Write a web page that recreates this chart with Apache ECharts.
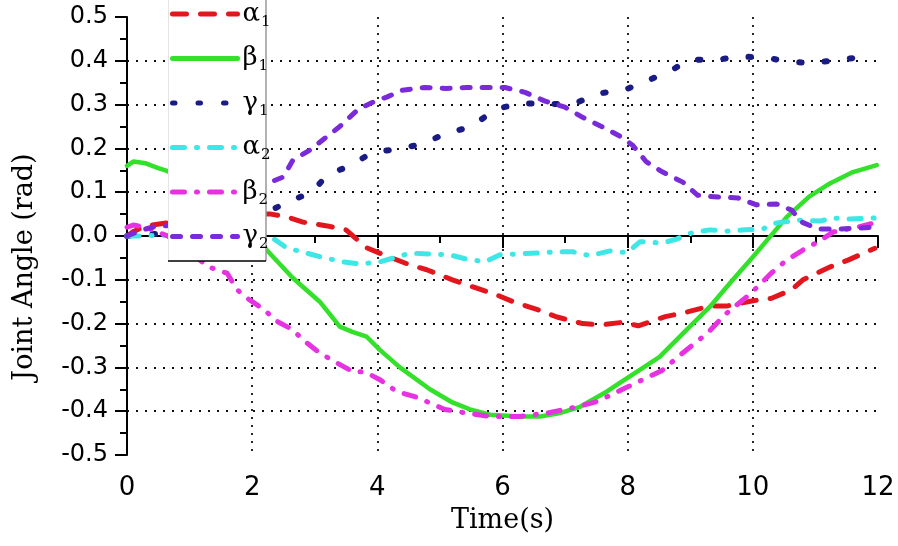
<!DOCTYPE html>
<html><head><meta charset="utf-8">
<script src="https://cdn.jsdelivr.net/npm/echarts@6/dist/echarts.min.js"></script>
<style>html,body{margin:0;padding:0;background:#fff}#c{width:898px;height:546px}</style>
</head><body><div id="c"></div>
<script>
// Series names (legend)
const seriesNames = ['α1', 'β1', 'γ1', 'α2', 'β2', 'γ2'];
// x ticks / y ticks
const xTicks = [0, 2, 4, 6, 8, 10, 12];
const yTicks = [-0.5, -0.4, -0.3, -0.2, -0.1, 0.0, 0.1, 0.2, 0.3, 0.4, 0.5];

// [time (s), joint angle (rad)]
const alpha1 = [[0,0.0],[0.1,0.01],[0.25,0.02],[0.4,0.025],[0.65,0.03],[1.5,0.045],[2.0,0.05],[2.3,0.05],[2.57,0.043],[2.8,0.032],[3.2,0.023],[3.5,0.014],[3.83,-0.027],[4.1,-0.043],[4.52,-0.066],[4.79,-0.077],[5.2,-0.1],[5.48,-0.114],[5.9,-0.134],[6.17,-0.15],[6.6,-0.17],[6.87,-0.185],[7.28,-0.2],[7.58,-0.203],[7.92,-0.197],[8.17,-0.205],[8.6,-0.184],[8.88,-0.176],[9.31,-0.16],[9.58,-0.16],[10.0,-0.148],[10.3,-0.142],[10.62,-0.123],[10.8,-0.1],[11.23,-0.071],[11.52,-0.055],[11.95,-0.028]];
const beta1 = [[0,0.16],[0.1,0.17],[0.3,0.166],[0.5,0.155],[0.65,0.148],[1.0,0.12],[1.5,0.06],[2.0,0.005],[2.25,-0.035],[2.65,-0.096],[3.08,-0.15],[3.4,-0.207],[3.6,-0.219],[3.83,-0.23],[4.04,-0.26],[4.36,-0.3],[4.84,-0.35],[5.2,-0.38],[5.48,-0.396],[5.8,-0.408],[6.28,-0.412],[6.6,-0.412],[6.9,-0.405],[7.24,-0.39],[7.67,-0.355],[7.88,-0.335],[8.2,-0.305],[8.51,-0.276],[8.9,-0.22],[9.31,-0.162],[9.65,-0.105],[10.0,-0.048],[10.54,0.043],[10.9,0.09],[11.23,0.12],[11.6,0.146],[11.98,0.162]];
const gamma1 = [[0,0.0],[0.5,0.005],[1.0,0.01],[1.5,0.02],[2.0,0.035],[2.24,0.055],[2.64,0.082],[2.96,0.1],[3.2,0.14],[3.56,0.16],[3.91,0.19],[4.33,0.199],[4.73,0.21],[5.1,0.235],[5.5,0.249],[5.88,0.289],[6.28,0.303],[6.7,0.302],[7.12,0.3],[7.52,0.325],[7.96,0.334],[8.37,0.358],[8.72,0.38],[9.0,0.404],[9.36,0.4],[9.74,0.41],[10.14,0.408],[10.48,0.401],[10.9,0.394],[11.31,0.401],[11.7,0.408],[11.9,0.405]];
const alpha2 = [[0,0.0],[0.2,0.0],[0.5,0.002],[1.0,0.0],[1.5,0.0],[2.0,-0.002],[2.33,-0.005],[2.55,-0.027],[2.87,-0.039],[3.16,-0.05],[3.45,-0.059],[3.72,-0.064],[4.04,-0.059],[4.31,-0.048],[4.52,-0.039],[4.84,-0.041],[5.16,-0.043],[5.4,-0.052],[5.72,-0.059],[5.96,-0.043],[6.23,-0.041],[6.55,-0.039],[6.87,-0.036],[7.12,-0.036],[7.4,-0.045],[7.72,-0.034],[7.99,-0.038],[8.2,-0.013],[8.56,-0.016],[8.78,-0.007],[9.02,0.007],[9.31,0.014],[9.58,0.011],[9.87,0.014],[10.16,0.016],[10.38,0.03],[10.75,0.036],[11.07,0.034],[11.28,0.041],[11.55,0.039],[11.95,0.041]];
const beta2 = [[0,0.02],[0.1,0.025],[0.3,0.02],[0.65,0.0],[1.0,-0.035],[1.29,-0.07],[1.6,-0.085],[1.76,-0.123],[1.96,-0.146],[2.17,-0.166],[2.4,-0.195],[2.65,-0.214],[2.81,-0.237],[3.08,-0.267],[3.32,-0.287],[3.61,-0.31],[3.8,-0.31],[4.04,-0.328],[4.31,-0.355],[4.65,-0.369],[4.79,-0.378],[5.08,-0.396],[5.37,-0.403],[5.8,-0.412],[6.28,-0.412],[6.76,-0.403],[7.19,-0.39],[7.51,-0.378],[7.92,-0.35],[8.24,-0.328],[8.55,-0.307],[8.88,-0.267],[9.28,-0.221],[9.55,-0.18],[9.9,-0.139],[10.06,-0.118],[10.3,-0.084],[10.54,-0.055],[10.8,-0.032],[11.07,-0.011],[11.28,0.009],[11.6,0.018],[11.95,0.03]];
const gamma2 = [[0,0.0],[0.2,0.012],[0.4,0.02],[0.57,0.023],[0.8,0.025],[1.2,0.04],[1.6,0.06],[2.0,0.1],[2.24,0.12],[2.5,0.135],[2.65,0.173],[2.92,0.196],[3.08,0.214],[3.4,0.25],[3.7,0.29],[4.0,0.31],[4.15,0.317],[4.4,0.333],[4.76,0.339],[5.1,0.337],[5.43,0.339],[5.72,0.339],[6.04,0.339],[6.36,0.328],[6.68,0.308],[7.0,0.294],[7.28,0.271],[7.6,0.249],[7.9,0.226],[8.08,0.207],[8.3,0.169],[8.56,0.146],[8.88,0.123],[9.12,0.093],[9.44,0.089],[9.76,0.087],[10.06,0.071],[10.38,0.073],[10.62,0.059],[10.78,0.032],[11.04,0.016],[11.39,0.016],[11.7,0.018],[11.92,0.02]];

const seriesData = [alpha1, beta1, gamma1, alpha2, beta2, gamma2];
const colors = ['#e3161e', '#33e02a', '#1b1b86', '#3ee6e6', '#e632e0', '#7a2ad8'];
const dashes = [[14, 14], 'solid', [2.5, 23], [12, 12, 1, 12], [12, 12, 1, 12], [8, 12]];
const widths = [5, 4.5, 6, 5, 5, 5];

const chart = echarts.init(document.getElementById('c'), null, {renderer: 'canvas'});
const serif = 'DejaVu Serif';
const sans = 'DejaVu Sans';

const option = {
  backgroundColor: '#fff',
  animation: false,
  grid: {left: 127, right: 20, top: 17, bottom: 91, containLabel: false},
  xAxis: {
    type: 'value', min: xTicks[0], max: xTicks[xTicks.length - 1], interval: 2,
    name: 'Time(s)', nameLocation: 'middle', nameGap: 52,
    nameTextStyle: {fontFamily: serif, fontSize: 27, color: '#000'},
    axisLine: {show: true, lineStyle: {color: '#000', width: 2}},
    axisTick: {show: true, inside: false, length: 12, lineStyle: {color: '#000', width: 2}},
    minorTick: {show: true, splitNumber: 2, length: 7, lineStyle: {color: '#000', width: 2}},
    axisLabel: {margin: 20, fontFamily: sans, fontSize: 26, color: '#000'},
    splitLine: {show: true, showMinLine: false, showMaxLine: false, lineStyle: {color: '#111', width: 1.8, type: [2, 6]}}
  },
  yAxis: {
    type: 'value', min: yTicks[0], max: yTicks[yTicks.length - 1], interval: 0.1,
    axisLine: {show: true, lineStyle: {color: '#000', width: 2}},
    axisTick: {show: true, inside: false, length: 12, lineStyle: {color: '#000', width: 2}},
    minorTick: {show: true, splitNumber: 2, length: 7, lineStyle: {color: '#000', width: 2}},
    axisLabel: {margin: 19, fontFamily: sans, fontSize: 24, color: '#000',
      formatter: v => (Math.abs(v) < 1e-9 ? '0.0' : v.toFixed(1))},
    splitLine: {show: true, showMinLine: false, showMaxLine: false, lineStyle: {color: '#111', width: 1.8, type: [2, 7]}}
  },
  legend: {
    orient: 'vertical', left: 170, top: 1, padding: 0, itemGap: 16,
    itemWidth: 65, itemHeight: 14,
    data: seriesNames,
    itemStyle: {opacity: 0},
    lineStyle: {width: 5},
    formatter: name => '{g|' + name[0] + '}{s|' + name.slice(1) + '}',
    textStyle: {
      rich: {
        g: {fontFamily: serif, fontSize: 26, color: '#000'},
        s: {fontFamily: serif, fontSize: 15, color: '#000', padding: [16, 0, 0, 1]}
      }
    }
  },
  graphic: [
    {type: 'rect', z: 3, shape: {x: 168, y: 0, width: 98, height: 261}, style: {fill: '#fff'}},
    {type: 'line', z: 3, shape: {x1: 168.5, y1: 0, x2: 168.5, y2: 261}, style: {stroke: '#e4e4e4', lineWidth: 1}},
    {type: 'line', z: 3, shape: {x1: 266, y1: 0, x2: 266, y2: 261}, style: {stroke: '#999', lineWidth: 1.5}},
    {type: 'line', z: 3, shape: {x1: 168, y1: 261, x2: 266, y2: 261}, style: {stroke: '#000', lineWidth: 1.5}},
    {type: 'text', z: 5, x: 25, y: 267, rotation: Math.PI / 2,
      style: {text: 'Joint Angle (rad)', fontFamily: serif, fontSize: 27, fill: '#000', align: 'center', verticalAlign: 'middle'}}
  ],
  series: seriesNames.map((n, i) => ({
    name: n, type: 'line', data: seriesData[i], showSymbol: false, symbol: 'none',
    color: colors[i], z: 2,
    lineStyle: {color: colors[i], width: widths[i], type: dashes[i], cap: 'round', join: 'round'}
  }))
};
chart.setOption(option);
</script></body></html>
